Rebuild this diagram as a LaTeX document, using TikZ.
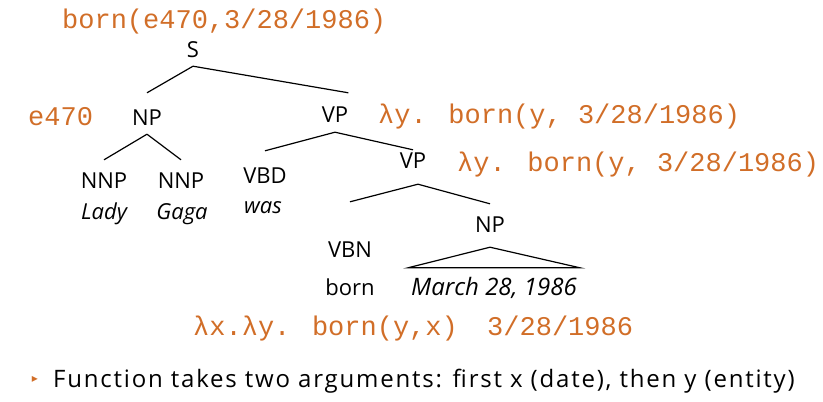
\documentclass[tikz,border=0pt]{standalone}
\usepackage{fontspec}
\setmainfont{Open Sans}
\newfontfamily\semfont{Liberation Mono}
\newfontfamily\markfont{DejaVu Sans}
\usetikzlibrary{positioning}

\definecolor{semorange}{RGB}{209,110,40}

\tikzset{
  cat/.style={font=\fontsize{22}{26}\selectfont, inner sep=0pt, anchor=base,
              text height=29pt, text depth=10pt},
  leaf/.style={cat, font=\fontsize{22}{26}\selectfont\itshape},
  sem/.style={font=\semfont\fontsize{27}{30}\selectfont, text=semorange,
              inner sep=0pt, anchor=base west},
  edge/.style={line width=1.2pt}
}

\begin{document}
\begin{tikzpicture}[x=1pt,y=-1pt]
\useasboundingbox (0,0) rectangle (823,402);

% tree
\node[cat, text depth=9pt]                     (S)    at (193,57)  {S};
\node[cat, text height=32pt, text depth=9pt]   (NP)   at (147,125) {NP};
\node[cat]                                     (VP)   at (335,122) {VP};
\node[cat, text height=28pt]                   (NNPa) at (104,188) {NNP};
\node[cat, text height=28pt]                   (NNPb) at (181,188) {NNP};
\node[leaf]                                    (lady) at (104,219) {Lady};
\node[leaf]                                    (gaga) at (182,219) {Gaga};
\node[cat, text height=32pt]                   (VBD)  at (265,183) {VBD};
\node[leaf]                                    (was)  at (263,213) {was};
\node[cat, text height=18pt, text depth=16pt]  (VPb)  at (413,168) {VP};
\node[cat, text height=55pt]                   (VBN)  at (350,257) {VBN};
\node[cat]                                     (born) at (350,295) {born};
\node[cat, text height=28pt, text depth=15pt]  (NPb)  at (490,232) {NP};
\node[leaf, font=\fontsize{24}{26}\selectfont\itshape, text height=27pt, inner xsep=3pt]
                                               (date) at (494,295) {March 28, 1986};

\draw[edge] (S.south)   -- (NP.north);
\draw[edge] (S.south)   -- (VP.north east);
\draw[edge] (NP.south)  -- (NNPa.north);
\draw[edge] (NP.south)  -- (NNPb.north);
\draw[edge] (VP.south)  -- (VBD.north);
\draw[edge] (VP.south)  -- (VPb.north);
\draw[edge] ([xshift=5pt]VPb.south) -- (VBN.north);
\draw[edge] ([xshift=5pt]VPb.south) -- (NPb.north);
\draw[edge] (NPb.south) -- (date.north west) -- (date.north east) -- cycle;

% semantics
\node[sem] (semS)   at (62,28)   {born(e470,3/28/1986)};
\node[sem] (semNP)  at (28,125)  {e470};
\node[sem] (semVP)  at (378,123) {λy. born(y, 3/28/1986)};
\node[sem] (semVPb) at (457,171) {λy. born(y, 3/28/1986)};
\node[sem] (semVBN) at (193,335) {λx.λy. born(y,x)};
\node[sem] (semNPb) at (487,335) {3/28/1986};

% bullet
\node[font=\markfont\fontsize{12}{12}\selectfont, text=semorange, inner sep=0pt] (mark) at (35,379) {▸};
\node[font=\fontsize{24}{26}\selectfont\addfontfeature{LetterSpace=7.5}, inner sep=0pt, anchor=base west] (note) at (53,387)
  {Function takes two arguments: first x (date), then y (entity)};

\end{tikzpicture}
\end{document}
